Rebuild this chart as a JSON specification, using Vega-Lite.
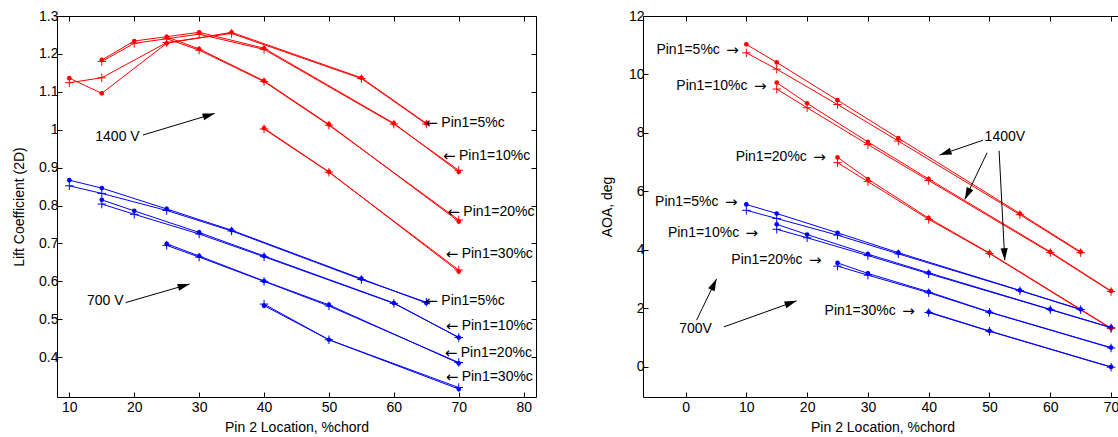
{
  "$schema": "https://vega.github.io/schema/vega-lite/v6.json",
  "padding": {"left": 12, "top": 8, "right": 0, "bottom": 0},
  "spacing": 62,
  "config": {
    "font": "Liberation Sans",
    "view": {"stroke": "black", "strokeWidth": 1},
    "axis": {"domain": false, "grid": false, "tickColor": "black", "labelColor": "black", "titleColor": "black", "labelFontSize": 14, "titleFontSize": 14, "titleFontWeight": "normal", "labelFont": "Liberation Sans", "titleFont": "Liberation Sans"}
  },
  "datasets": {
    "lift": [
      {"volt": "1400V", "pin1": "5%", "pin2": 10, "dot": 1.136, "plus": 1.124},
      {"volt": "1400V", "pin1": "5%", "pin2": 15, "dot": 1.096, "plus": 1.137},
      {"volt": "1400V", "pin1": "5%", "pin2": 25, "dot": 1.228, "plus": 1.230},
      {"volt": "1400V", "pin1": "5%", "pin2": 35, "dot": 1.257, "plus": 1.254},
      {"volt": "1400V", "pin1": "5%", "pin2": 55, "dot": 1.137, "plus": 1.135},
      {"volt": "1400V", "pin1": "5%", "pin2": 65, "dot": 1.017, "plus": 1.015},
      {"volt": "1400V", "pin1": "10%", "pin2": 15, "dot": 1.184, "plus": 1.180},
      {"volt": "1400V", "pin1": "10%", "pin2": 20, "dot": 1.234, "plus": 1.228},
      {"volt": "1400V", "pin1": "10%", "pin2": 30, "dot": 1.257, "plus": 1.252},
      {"volt": "1400V", "pin1": "10%", "pin2": 40, "dot": 1.215, "plus": 1.212},
      {"volt": "1400V", "pin1": "10%", "pin2": 60, "dot": 1.017, "plus": 1.015},
      {"volt": "1400V", "pin1": "10%", "pin2": 70, "dot": 0.889, "plus": 0.893},
      {"volt": "1400V", "pin1": "20%", "pin2": 25, "dot": 1.245, "plus": 1.240},
      {"volt": "1400V", "pin1": "20%", "pin2": 30, "dot": 1.213, "plus": 1.210},
      {"volt": "1400V", "pin1": "20%", "pin2": 40, "dot": 1.129, "plus": 1.127},
      {"volt": "1400V", "pin1": "20%", "pin2": 50, "dot": 1.014, "plus": 1.012},
      {"volt": "1400V", "pin1": "20%", "pin2": 70, "dot": 0.758, "plus": 0.762},
      {"volt": "1400V", "pin1": "30%", "pin2": 40, "dot": 1.004, "plus": 1.002},
      {"volt": "1400V", "pin1": "30%", "pin2": 50, "dot": 0.889, "plus": 0.888},
      {"volt": "1400V", "pin1": "30%", "pin2": 70, "dot": 0.626, "plus": 0.630},
      {"volt": "700V", "pin1": "5%", "pin2": 10, "dot": 0.867, "plus": 0.852},
      {"volt": "700V", "pin1": "5%", "pin2": 15, "dot": 0.846, "plus": 0.832},
      {"volt": "700V", "pin1": "5%", "pin2": 25, "dot": 0.791, "plus": 0.787},
      {"volt": "700V", "pin1": "5%", "pin2": 35, "dot": 0.735, "plus": 0.733},
      {"volt": "700V", "pin1": "5%", "pin2": 55, "dot": 0.607, "plus": 0.605},
      {"volt": "700V", "pin1": "5%", "pin2": 65, "dot": 0.543, "plus": 0.545},
      {"volt": "700V", "pin1": "10%", "pin2": 15, "dot": 0.815, "plus": 0.804},
      {"volt": "700V", "pin1": "10%", "pin2": 20, "dot": 0.786, "plus": 0.777},
      {"volt": "700V", "pin1": "10%", "pin2": 30, "dot": 0.729, "plus": 0.725},
      {"volt": "700V", "pin1": "10%", "pin2": 40, "dot": 0.667, "plus": 0.665},
      {"volt": "700V", "pin1": "10%", "pin2": 60, "dot": 0.543, "plus": 0.542},
      {"volt": "700V", "pin1": "10%", "pin2": 70, "dot": 0.452, "plus": 0.452},
      {"volt": "700V", "pin1": "20%", "pin2": 25, "dot": 0.699, "plus": 0.695},
      {"volt": "700V", "pin1": "20%", "pin2": 30, "dot": 0.667, "plus": 0.664},
      {"volt": "700V", "pin1": "20%", "pin2": 40, "dot": 0.601, "plus": 0.600},
      {"volt": "700V", "pin1": "20%", "pin2": 50, "dot": 0.538, "plus": 0.535},
      {"volt": "700V", "pin1": "20%", "pin2": 70, "dot": 0.384, "plus": 0.386},
      {"volt": "700V", "pin1": "30%", "pin2": 40, "dot": 0.536, "plus": 0.540},
      {"volt": "700V", "pin1": "30%", "pin2": 50, "dot": 0.446, "plus": 0.446},
      {"volt": "700V", "pin1": "30%", "pin2": 70, "dot": 0.316, "plus": 0.320}
    ],
    "aoa": [
      {"volt": "1400V", "pin1": "5%", "pin2": 10, "dot": 11.03, "plus": 10.74},
      {"volt": "1400V", "pin1": "5%", "pin2": 15, "dot": 10.41, "plus": 10.18},
      {"volt": "1400V", "pin1": "5%", "pin2": 25, "dot": 9.12, "plus": 8.97},
      {"volt": "1400V", "pin1": "5%", "pin2": 35, "dot": 7.82, "plus": 7.72},
      {"volt": "1400V", "pin1": "5%", "pin2": 55, "dot": 5.24, "plus": 5.20},
      {"volt": "1400V", "pin1": "5%", "pin2": 65, "dot": 3.93, "plus": 3.90},
      {"volt": "1400V", "pin1": "10%", "pin2": 15, "dot": 9.72, "plus": 9.50},
      {"volt": "1400V", "pin1": "10%", "pin2": 20, "dot": 9.01, "plus": 8.86},
      {"volt": "1400V", "pin1": "10%", "pin2": 30, "dot": 7.69, "plus": 7.60},
      {"volt": "1400V", "pin1": "10%", "pin2": 40, "dot": 6.42, "plus": 6.37},
      {"volt": "1400V", "pin1": "10%", "pin2": 60, "dot": 3.93, "plus": 3.90},
      {"volt": "1400V", "pin1": "10%", "pin2": 70, "dot": 2.59, "plus": 2.57},
      {"volt": "1400V", "pin1": "20%", "pin2": 25, "dot": 7.16, "plus": 6.98},
      {"volt": "1400V", "pin1": "20%", "pin2": 30, "dot": 6.42, "plus": 6.33},
      {"volt": "1400V", "pin1": "20%", "pin2": 40, "dot": 5.08, "plus": 5.04},
      {"volt": "1400V", "pin1": "20%", "pin2": 50, "dot": 3.89, "plus": 3.87},
      {"volt": "1400V", "pin1": "20%", "pin2": 70, "dot": 1.32, "plus": 1.30},
      {"volt": "700V", "pin1": "5%", "pin2": 10, "dot": 5.55, "plus": 5.35},
      {"volt": "700V", "pin1": "5%", "pin2": 15, "dot": 5.24, "plus": 5.07},
      {"volt": "700V", "pin1": "5%", "pin2": 25, "dot": 4.58, "plus": 4.50},
      {"volt": "700V", "pin1": "5%", "pin2": 35, "dot": 3.90, "plus": 3.86},
      {"volt": "700V", "pin1": "5%", "pin2": 55, "dot": 2.61, "plus": 2.60},
      {"volt": "700V", "pin1": "5%", "pin2": 65, "dot": 1.96, "plus": 1.95},
      {"volt": "700V", "pin1": "10%", "pin2": 15, "dot": 4.87, "plus": 4.70},
      {"volt": "700V", "pin1": "10%", "pin2": 20, "dot": 4.52, "plus": 4.41},
      {"volt": "700V", "pin1": "10%", "pin2": 30, "dot": 3.85, "plus": 3.80},
      {"volt": "700V", "pin1": "10%", "pin2": 40, "dot": 3.21, "plus": 3.18},
      {"volt": "700V", "pin1": "10%", "pin2": 60, "dot": 1.96, "plus": 1.95},
      {"volt": "700V", "pin1": "10%", "pin2": 70, "dot": 1.34, "plus": 1.33},
      {"volt": "700V", "pin1": "20%", "pin2": 25, "dot": 3.55, "plus": 3.44},
      {"volt": "700V", "pin1": "20%", "pin2": 30, "dot": 3.19, "plus": 3.13},
      {"volt": "700V", "pin1": "20%", "pin2": 40, "dot": 2.56, "plus": 2.53},
      {"volt": "700V", "pin1": "20%", "pin2": 50, "dot": 1.87, "plus": 1.86},
      {"volt": "700V", "pin1": "20%", "pin2": 70, "dot": 0.65, "plus": 0.64},
      {"volt": "700V", "pin1": "30%", "pin2": 40, "dot": 1.87, "plus": 1.85},
      {"volt": "700V", "pin1": "30%", "pin2": 50, "dot": 1.22, "plus": 1.21},
      {"volt": "700V", "pin1": "30%", "pin2": 70, "dot": -0.01, "plus": -0.02}
    ],
    "liftVolt": [
      {"x": 14.0, "y": 0.982, "label": "1400 V"},
      {"x": 12.71, "y": 0.548, "label": "700 V"}
    ],
    "liftPins": [
      {"x": 64.85, "y": 1.019, "label": "Pin1=5%c"},
      {"x": 67.57, "y": 0.932, "label": "Pin1=10%c"},
      {"x": 68.24, "y": 0.784, "label": "Pin1=20%c"},
      {"x": 67.98, "y": 0.672, "label": "Pin1=30%c"},
      {"x": 64.85, "y": 0.547, "label": "Pin1=5%c"},
      {"x": 67.98, "y": 0.481, "label": "Pin1=10%c"},
      {"x": 67.83, "y": 0.412, "label": "Pin1=20%c"},
      {"x": 67.98, "y": 0.347, "label": "Pin1=30%c"}
    ],
    "liftArrows": [
      {"x": 21.34, "y": 0.986, "x2": 32.39, "y2": 1.043, "heading": 343.2},
      {"x": 18.67, "y": 0.544, "x2": 28.54, "y2": 0.593, "heading": 343.7}
    ],
    "aoaVolt": [
      {"x": 49.2, "y": 7.87, "label": "1400V"},
      {"x": -1.05, "y": 1.30, "label": "700V"}
    ],
    "aoaPins": [
      {"x": 8.77, "y": 10.84, "label": "Pin1=5%c"},
      {"x": 13.32, "y": 9.6, "label": "Pin1=10%c"},
      {"x": 23.08, "y": 7.18, "label": "Pin1=20%c"},
      {"x": 8.55, "y": 5.62, "label": "Pin1=5%c"},
      {"x": 11.94, "y": 4.56, "label": "Pin1=10%c"},
      {"x": 22.37, "y": 3.64, "label": "Pin1=20%c"},
      {"x": 37.71, "y": 1.9, "label": "Pin1=30%c"}
    ],
    "aoaArrows": [
      {"x": 48.95, "y": 7.75, "x2": 41.8, "y2": 7.24, "heading": 160.9},
      {"x": 49.6, "y": 7.32, "x2": 45.94, "y2": 5.72, "heading": 115.6},
      {"x": 51.58, "y": 7.39, "x2": 52.52, "y2": 3.64, "heading": 87.0},
      {"x": 1.81, "y": 1.59, "x2": 5.1, "y2": 3.0, "heading": 295.6},
      {"x": 6.3, "y": 1.36, "x2": 18.26, "y2": 2.25, "heading": 340.3}
    ]
  },
  "hconcat": [
    {
      "width": 479,
      "height": 381,
      "resolve": {"axis": {"x": "independent", "y": "independent"}},
      "layer": [
        {
          "data": {"name": "lift"},
          "transform": [{"fold": ["dot", "plus"], "as": ["marker", "value"]}],
          "mark": {"type": "line", "strokeWidth": 1},
          "encoding": {
            "x": {"field": "pin2", "type": "quantitative", "scale": {"domain": [8.1, 81.9], "nice": false, "zero": false},
                  "axis": {"orient": "bottom", "values": [10, 20, 30, 40, 50, 60, 70, 80], "title": "Pin 2 Location, %chord", "labelFlush": false, "tickSize": -5, "labelPadding": 8, "titlePadding": 6}},
            "y": {"field": "value", "type": "quantitative", "scale": {"domain": [0.295, 1.3], "nice": false, "zero": false},
                  "axis": {"orient": "left", "values": [0.4, 0.5, 0.6, 0.7, 0.8, 0.9, 1, 1.1, 1.2, 1.3], "format": "~g", "title": "Lift Coefficient (2D)", "labelFlush": false, "tickSize": -5, "labelPadding": 4, "titlePadding": 12}},
            "color": {"field": "volt", "type": "nominal", "scale": {"domain": ["1400V", "700V"], "range": ["#ff0000", "#0000ff"]}, "legend": null},
            "detail": [{"field": "pin1"}, {"field": "marker"}]
          }
        },
        {
          "data": {"name": "lift"},
          "transform": [{"fold": ["dot", "plus"], "as": ["marker", "value"]}, {"filter": "datum.marker == 'dot'"}],
          "mark": {"type": "point", "shape": "circle", "filled": true, "size": 22, "opacity": 1},
          "encoding": {
            "x": {"field": "pin2", "type": "quantitative", "scale": {"domain": [8.1, 81.9], "nice": false, "zero": false},
                  "axis": {"orient": "top", "values": [10, 20, 30, 40, 50, 60, 70, 80], "labels": false, "title": null, "tickSize": -5}},
            "y": {"field": "value", "type": "quantitative", "scale": {"domain": [0.295, 1.3], "nice": false, "zero": false},
                  "axis": {"orient": "right", "values": [0.4, 0.5, 0.6, 0.7, 0.8, 0.9, 1, 1.1, 1.2, 1.3], "labels": false, "title": null, "tickSize": -5}},
            "color": {"field": "volt", "type": "nominal", "scale": {"domain": ["1400V", "700V"], "range": ["#ff0000", "#0000ff"]}, "legend": null}
          }
        },
        {
          "data": {"name": "lift"},
          "transform": [{"fold": ["dot", "plus"], "as": ["marker", "value"]}, {"filter": "datum.marker == 'plus'"}],
          "mark": {"type": "point", "shape": "M-1,0L1,0M0,-1L0,1", "filled": false, "size": 72, "strokeWidth": 1, "opacity": 1},
          "encoding": {
            "x": {"field": "pin2", "type": "quantitative", "scale": {"domain": [8.1, 81.9], "nice": false, "zero": false}, "axis": null},
            "y": {"field": "value", "type": "quantitative", "scale": {"domain": [0.295, 1.3], "nice": false, "zero": false}, "axis": null},
            "color": {"field": "volt", "type": "nominal", "scale": {"domain": ["1400V", "700V"], "range": ["#ff0000", "#0000ff"]}, "legend": null}
          }
        },
        {
          "data": {"name": "liftArrows"},
          "mark": {"type": "rule", "color": "black", "strokeWidth": 1},
          "encoding": {
            "x": {"field": "x", "type": "quantitative", "scale": {"domain": [8.1, 81.9], "nice": false, "zero": false}, "axis": null},
            "y": {"field": "y", "type": "quantitative", "scale": {"domain": [0.295, 1.3], "nice": false, "zero": false}, "axis": null},
            "x2": {"field": "x2"},
            "y2": {"field": "y2"}
          }
        },
        {
          "data": {"name": "liftArrows"},
          "mark": {"type": "point", "shape": "M0,0L-1,-0.3L-1,0.3Z", "filled": true, "color": "black", "size": 576, "opacity": 1},
          "encoding": {
            "x": {"field": "x2", "type": "quantitative", "scale": {"domain": [8.1, 81.9], "nice": false, "zero": false}, "axis": null},
            "y": {"field": "y2", "type": "quantitative", "scale": {"domain": [0.295, 1.3], "nice": false, "zero": false}, "axis": null},
            "angle": {"field": "heading", "type": "quantitative", "scale": null}
          }
        },
        {
          "data": {"name": "liftVolt"},
          "mark": {"type": "text", "align": "left", "baseline": "middle", "fontSize": 14, "color": "black"},
          "encoding": {
            "x": {"field": "x", "type": "quantitative", "scale": {"domain": [8.1, 81.9], "nice": false, "zero": false}, "axis": null},
            "y": {"field": "y", "type": "quantitative", "scale": {"domain": [0.295, 1.3], "nice": false, "zero": false}, "axis": null},
            "text": {"field": "label"}
          }
        },
        {
          "data": {"name": "liftPins"},
          "mark": {"type": "text", "align": "left", "baseline": "middle", "fontSize": 15, "font": "DejaVu Sans", "color": "black", "text": "←"},
          "encoding": {
            "x": {"field": "x", "type": "quantitative", "scale": {"domain": [8.1, 81.9], "nice": false, "zero": false}, "axis": null},
            "y": {"field": "y", "type": "quantitative", "scale": {"domain": [0.295, 1.3], "nice": false, "zero": false}, "axis": null}
          }
        },
        {
          "data": {"name": "liftPins"},
          "mark": {"type": "text", "align": "left", "baseline": "middle", "fontSize": 14, "color": "black", "dx": 16},
          "encoding": {
            "x": {"field": "x", "type": "quantitative", "scale": {"domain": [8.1, 81.9], "nice": false, "zero": false}, "axis": null},
            "y": {"field": "y", "type": "quantitative", "scale": {"domain": [0.295, 1.3], "nice": false, "zero": false}, "axis": null},
            "text": {"field": "label"}
          }
        }
      ]
    },
    {
      "width": 479,
      "height": 381,
      "resolve": {"axis": {"x": "independent", "y": "independent"}},
      "layer": [
        {
          "data": {"name": "aoa"},
          "transform": [{"fold": ["dot", "plus"], "as": ["marker", "value"]}],
          "mark": {"type": "line", "strokeWidth": 1},
          "encoding": {
            "x": {"field": "pin2", "type": "quantitative", "scale": {"domain": [-7, 71.8], "nice": false, "zero": false},
                  "axis": {"orient": "bottom", "values": [0, 10, 20, 30, 40, 50, 60, 70], "title": "Pin 2 Location, %chord", "labelFlush": false, "tickSize": -5, "labelPadding": 8, "titlePadding": 6}},
            "y": {"field": "value", "type": "quantitative", "scale": {"domain": [-1.04, 12], "nice": false, "zero": false},
                  "axis": {"orient": "left", "values": [0, 2, 4, 6, 8, 10, 12], "title": "AOA, deg", "labelFlush": false, "tickSize": -5, "labelPadding": 4, "titlePadding": 14}},
            "color": {"field": "volt", "type": "nominal", "scale": {"domain": ["1400V", "700V"], "range": ["#ff0000", "#0000ff"]}, "legend": null},
            "detail": [{"field": "pin1"}, {"field": "marker"}]
          }
        },
        {
          "data": {"name": "aoa"},
          "transform": [{"fold": ["dot", "plus"], "as": ["marker", "value"]}, {"filter": "datum.marker == 'dot'"}],
          "mark": {"type": "point", "shape": "circle", "filled": true, "size": 22, "opacity": 1},
          "encoding": {
            "x": {"field": "pin2", "type": "quantitative", "scale": {"domain": [-7, 71.8], "nice": false, "zero": false},
                  "axis": {"orient": "top", "values": [0, 10, 20, 30, 40, 50, 60, 70], "labels": false, "title": null, "tickSize": -5}},
            "y": {"field": "value", "type": "quantitative", "scale": {"domain": [-1.04, 12], "nice": false, "zero": false}, "axis": null},
            "color": {"field": "volt", "type": "nominal", "scale": {"domain": ["1400V", "700V"], "range": ["#ff0000", "#0000ff"]}, "legend": null}
          }
        },
        {
          "data": {"name": "aoa"},
          "transform": [{"fold": ["dot", "plus"], "as": ["marker", "value"]}, {"filter": "datum.marker == 'plus'"}],
          "mark": {"type": "point", "shape": "M-1,0L1,0M0,-1L0,1", "filled": false, "size": 72, "strokeWidth": 1, "opacity": 1},
          "encoding": {
            "x": {"field": "pin2", "type": "quantitative", "scale": {"domain": [-7, 71.8], "nice": false, "zero": false}, "axis": null},
            "y": {"field": "value", "type": "quantitative", "scale": {"domain": [-1.04, 12], "nice": false, "zero": false}, "axis": null},
            "color": {"field": "volt", "type": "nominal", "scale": {"domain": ["1400V", "700V"], "range": ["#ff0000", "#0000ff"]}, "legend": null}
          }
        },
        {
          "data": {"name": "aoaArrows"},
          "mark": {"type": "rule", "color": "black", "strokeWidth": 1},
          "encoding": {
            "x": {"field": "x", "type": "quantitative", "scale": {"domain": [-7, 71.8], "nice": false, "zero": false}, "axis": null},
            "y": {"field": "y", "type": "quantitative", "scale": {"domain": [-1.04, 12], "nice": false, "zero": false}, "axis": null},
            "x2": {"field": "x2"},
            "y2": {"field": "y2"}
          }
        },
        {
          "data": {"name": "aoaArrows"},
          "mark": {"type": "point", "shape": "M0,0L-1,-0.3L-1,0.3Z", "filled": true, "color": "black", "size": 576, "opacity": 1},
          "encoding": {
            "x": {"field": "x2", "type": "quantitative", "scale": {"domain": [-7, 71.8], "nice": false, "zero": false}, "axis": null},
            "y": {"field": "y2", "type": "quantitative", "scale": {"domain": [-1.04, 12], "nice": false, "zero": false}, "axis": null},
            "angle": {"field": "heading", "type": "quantitative", "scale": null}
          }
        },
        {
          "data": {"name": "aoaVolt"},
          "mark": {"type": "text", "align": "left", "baseline": "middle", "fontSize": 14, "color": "black"},
          "encoding": {
            "x": {"field": "x", "type": "quantitative", "scale": {"domain": [-7, 71.8], "nice": false, "zero": false}, "axis": null},
            "y": {"field": "y", "type": "quantitative", "scale": {"domain": [-1.04, 12], "nice": false, "zero": false}, "axis": null},
            "text": {"field": "label"}
          }
        },
        {
          "data": {"name": "aoaPins"},
          "mark": {"type": "text", "align": "right", "baseline": "middle", "fontSize": 15, "font": "DejaVu Sans", "color": "black", "text": "→"},
          "encoding": {
            "x": {"field": "x", "type": "quantitative", "scale": {"domain": [-7, 71.8], "nice": false, "zero": false}, "axis": null},
            "y": {"field": "y", "type": "quantitative", "scale": {"domain": [-1.04, 12], "nice": false, "zero": false}, "axis": null}
          }
        },
        {
          "data": {"name": "aoaPins"},
          "mark": {"type": "text", "align": "right", "baseline": "middle", "fontSize": 14, "color": "black", "dx": -19},
          "encoding": {
            "x": {"field": "x", "type": "quantitative", "scale": {"domain": [-7, 71.8], "nice": false, "zero": false}, "axis": null},
            "y": {"field": "y", "type": "quantitative", "scale": {"domain": [-1.04, 12], "nice": false, "zero": false}, "axis": null},
            "text": {"field": "label"}
          }
        }
      ]
    }
  ]
}
